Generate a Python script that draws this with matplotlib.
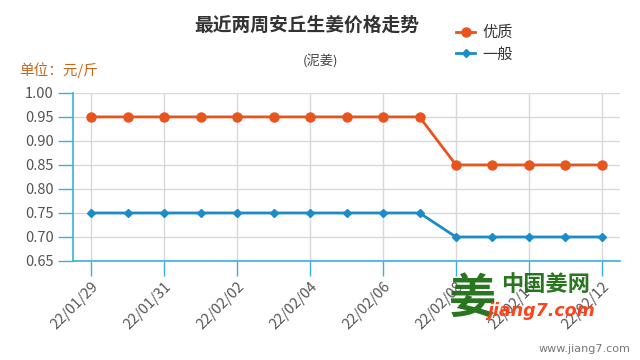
import matplotlib
matplotlib.use("Agg")
import matplotlib.pyplot as plt

plt.rcParams['font.family'] = ['Noto Sans CJK SC', 'DejaVu Sans']

dates = ["22/01/29", "22/01/30", "22/01/31", "22/02/01", "22/02/02", "22/02/03",
         "22/02/04", "22/02/05", "22/02/06", "22/02/07", "22/02/08", "22/02/09",
         "22/02/10", "22/02/11", "22/02/12"]
youzhi = [0.95, 0.95, 0.95, 0.95, 0.95, 0.95, 0.95, 0.95, 0.95, 0.95,
          0.85, 0.85, 0.85, 0.85, 0.85]
yiban = [0.75, 0.75, 0.75, 0.75, 0.75, 0.75, 0.75, 0.75, 0.75, 0.75,
         0.70, 0.70, 0.70, 0.70, 0.70]
yticks = [0.65, 0.70, 0.75, 0.80, 0.85, 0.90, 0.95, 1.00]

orange = "#e8541e"
blue = "#1a8cc8"
axis_blue = "#3ab0e0"

fig = plt.figure(figsize=(6.4, 3.6), dpi=100)
ax = fig.add_axes([0.114, 0.275, 0.855, 0.467])

x = list(range(len(dates)))
ax.plot(x, youzhi, color=orange, lw=2, marker="o", ms=6.5, label="优质", zorder=3)
ax.plot(x, yiban, color=blue, lw=2, marker="D", ms=4.5, label="一般", zorder=3)

ax.set_xlim(-0.5, len(dates) - 0.5)
ax.set_ylim(0.65, 1.00)
ax.set_yticks(yticks)
ax.set_yticklabels([f"{v:.2f}" for v in yticks])
ax.set_xticks(x[::2])
ax.set_xticklabels(dates[::2], rotation=45, ha="right", rotation_mode="anchor")

ax.grid(True, color="#d8d8d8", lw=1)
ax.set_axisbelow(True)
for s in ["top", "right"]:
    ax.spines[s].set_visible(False)
for s in ["left", "bottom"]:
    ax.spines[s].set_color(axis_blue)
    ax.spines[s].set_linewidth(1.2)
ax.tick_params(axis="y", colors=axis_blue, length=11, width=1, labelcolor="#555555", labelsize=10.5, pad=3)
ax.tick_params(axis="x", colors=axis_blue, length=11, width=1, labelcolor="#555555", labelsize=10.5, pad=2)

fig.text(0.48, 0.93, "最近两周安丘生姜价格走势", ha="center", va="center",
         fontsize=13.5, fontweight="bold", color="#333333")
fig.text(0.5, 0.83, "(泥姜)", ha="center", va="center", fontsize=9.5, color="#444444")
fig.text(0.03, 0.805, "单位：元/斤", ha="left", va="center", fontsize=10.5, color="#c8661a")

ax.legend(loc="upper left", bbox_to_anchor=(0.675, 1.49), frameon=False,
          fontsize=11, handlelength=1.25, handletextpad=0.45, labelspacing=0.3,
          labelcolor="#333333")

# watermark
fig.text(0.738, 0.17, "姜", ha="center", va="center", fontsize=34, fontweight="bold", color="#1e6e14", alpha=0.95)
fig.text(0.853, 0.21, "中国姜网", ha="center", va="center", fontsize=16, fontweight="bold", color="#1e6e14", alpha=0.95)
fig.text(0.845, 0.135, "jiang7.com", ha="center", va="center", fontsize=12.5, fontweight="bold",
         style="italic", color="#ff3a10", family="DejaVu Sans", alpha=0.95)
fig.text(0.985, 0.03, "www.jiang7.com", ha="right", va="center", fontsize=8, color="#777777",
         family="DejaVu Sans")

fig.savefig("out.png", dpi=100)
